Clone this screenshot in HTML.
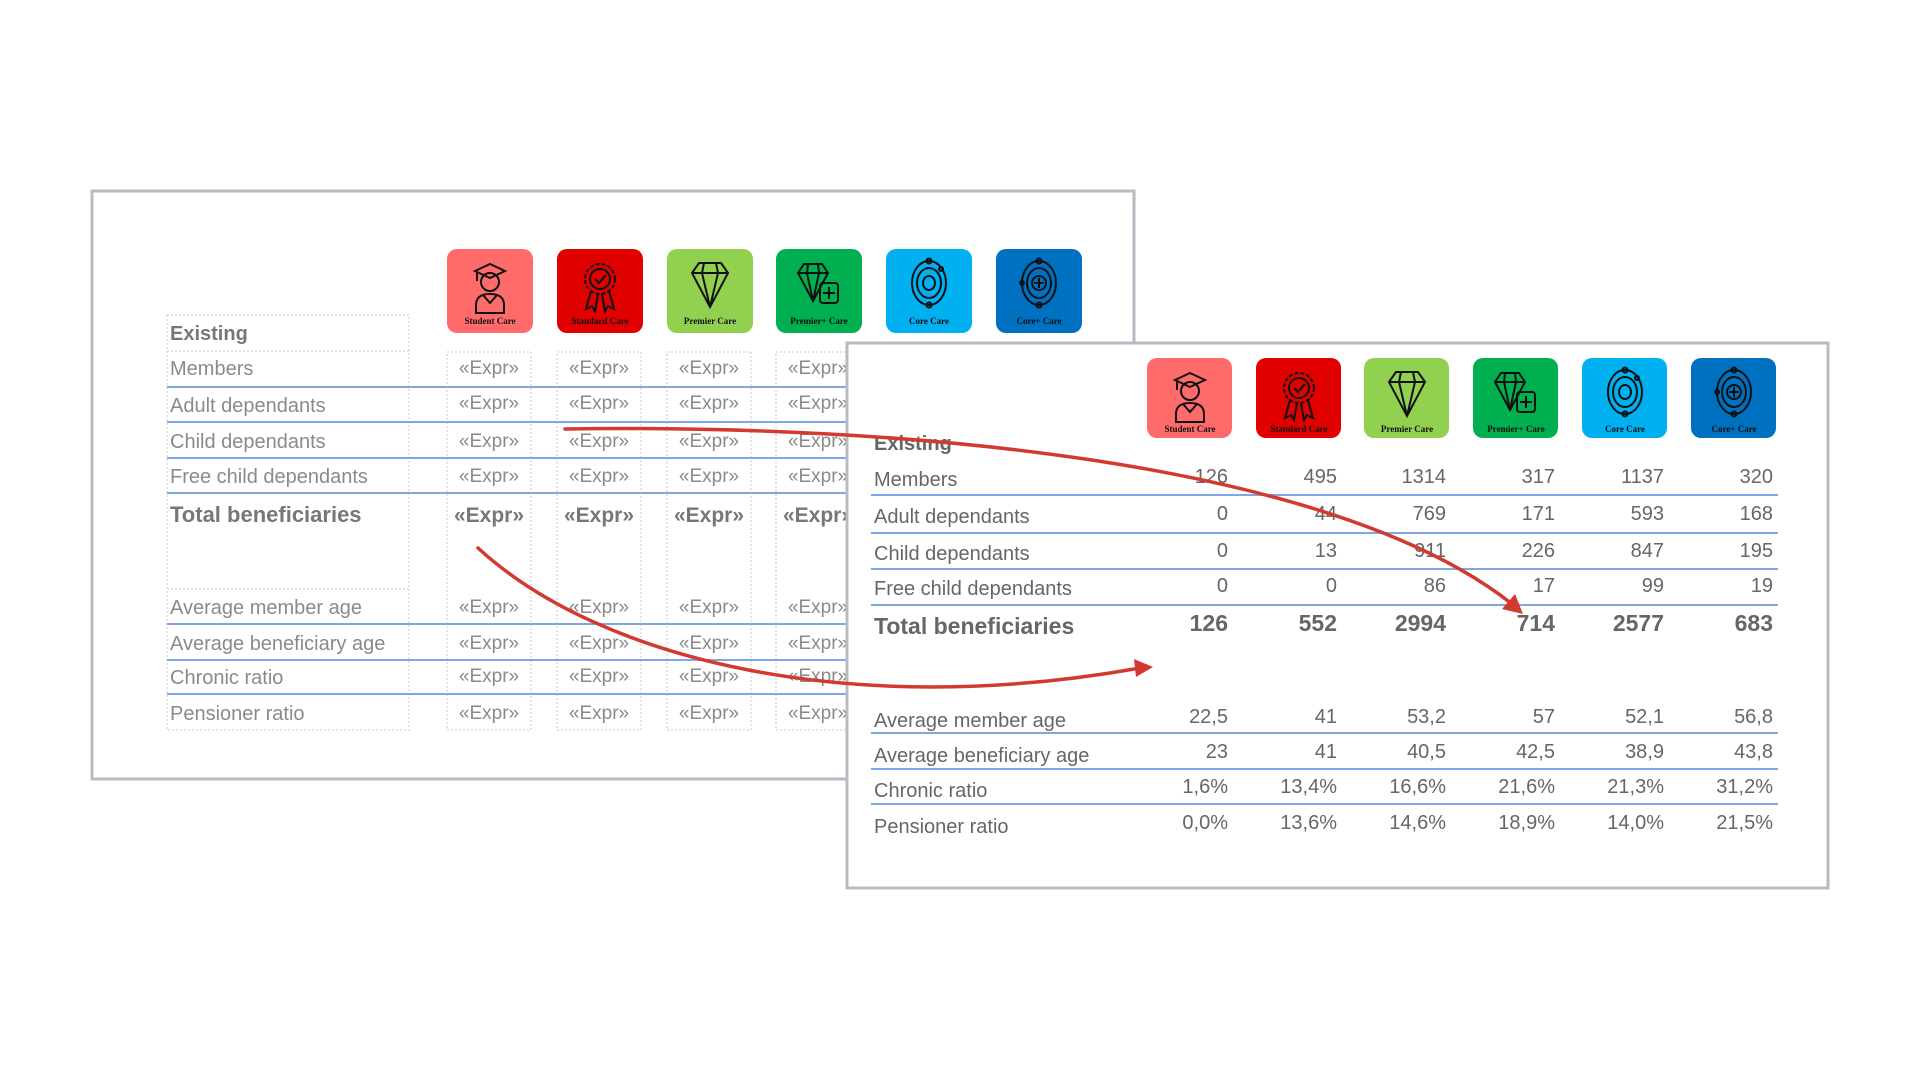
<!DOCTYPE html>
<html><head><meta charset="utf-8"><style>
html,body{margin:0;padding:0;background:#fff;}
svg{display:block}
text{font-family:"Liberation Sans Narrow","Liberation Sans",sans-serif;}
.l{fill:#8a8a8a;font-size:20px}
.r{fill:#666;font-size:20px}
.e{fill:#8a8a8a;font-size:19px}
.ic{font-family:"Liberation Serif",serif;font-weight:bold;font-size:9px;fill:#111}
</style></head><body>
<svg width="1920" height="1080" viewBox="0 0 1920 1080" xmlns="http://www.w3.org/2000/svg">
<defs>
<g id="g0" fill="none" stroke="#111" stroke-width="2">
<path d="M28 22 L43 15 L58 22 L43 29 Z"/><circle cx="43" cy="33" r="9"/><path d="M29 64 V56 Q29 45 43 45 Q57 45 57 56 V64 Z M36 46 L43 54 L50 46"/><path d="M30 23 V32"/></g>
<g id="g1" fill="none" stroke="#111" stroke-width="2">
<circle cx="43" cy="30" r="15" stroke-dasharray="4 2"/><circle cx="43" cy="30" r="10"/><path d="M38 30 l4 4 l7 -8"/><path d="M34 42 L29 60 L35 57 L38 62 L41 45 M52 42 L57 60 L51 57 L48 62 L45 45"/></g>
<g id="g2" fill="none" stroke="#111" stroke-width="2">
<path d="M25 24 L32 14 H54 L61 24 L43 58 Z M25 24 H61 M37 14 L35 24 L43 58 L51 24 L49 14"/></g>
<g id="g3" fill="none" stroke="#111" stroke-width="2">
<path d="M22 24 L28 15 H46 L52 24 L37 52 Z M22 24 H52 M32 15 L31 24 L37 52 L43 24 L42 15"/><rect x="44" y="34" width="18" height="20" rx="3"/><path d="M53 38 V50 M47 44 H59"/></g>
<g id="g4" fill="none" stroke="#111" stroke-width="2">
<ellipse cx="43" cy="34" rx="17" ry="22"/><ellipse cx="43" cy="34" rx="12" ry="15"/><ellipse cx="43" cy="34" rx="6" ry="7"/><circle cx="43" cy="12" r="2.5"/><circle cx="43" cy="56" r="2.5"/><circle cx="55" cy="20" r="2"/></g>
<g id="g5" fill="none" stroke="#111" stroke-width="2">
<ellipse cx="43" cy="34" rx="17" ry="22"/><ellipse cx="43" cy="34" rx="12" ry="15"/><circle cx="43" cy="34" r="7"/><path d="M43 29 V39 M38 34 H48"/><circle cx="43" cy="12" r="2.5"/><circle cx="43" cy="56" r="2.5"/><circle cx="26" cy="34" r="2"/></g>
</defs>

<!-- LEFT PANEL -->
<rect x="92" y="191" width="1042" height="588" fill="#fff" stroke="#b8bac4" stroke-width="3"/>
<g>
<g transform="translate(447,249)"><rect width="86" height="84" rx="10" fill="#ff6b6b"/><use href="#g0"/><text class="ic" x="43" y="75" text-anchor="middle">Student Care</text></g>
<g transform="translate(557,249)"><rect width="86" height="84" rx="10" fill="#e00000"/><use href="#g1"/><text class="ic" x="43" y="75" text-anchor="middle">Standard Care</text></g>
<g transform="translate(667,249)"><rect width="86" height="84" rx="10" fill="#92d050"/><use href="#g2"/><text class="ic" x="43" y="75" text-anchor="middle">Premier Care</text></g>
<g transform="translate(776,249)"><rect width="86" height="84" rx="10" fill="#00b050"/><use href="#g3"/><text class="ic" x="43" y="75" text-anchor="middle">Premier+ Care</text></g>
<g transform="translate(886,249)"><rect width="86" height="84" rx="10" fill="#00b0f0"/><use href="#g4"/><text class="ic" x="43" y="75" text-anchor="middle">Core Care</text></g>
<g transform="translate(996,249)"><rect width="86" height="84" rx="10" fill="#0070c0"/><use href="#g5"/><text class="ic" x="43" y="75" text-anchor="middle">Core+ Care</text></g>
</g>
<g fill="none" stroke="#c8c8c8" stroke-width="1" stroke-dasharray="2 2">
<rect x="167" y="315" width="242" height="415"/><line x1="167" y1="351" x2="409" y2="351"/>
<rect x="447" y="352" width="84" height="378"/><rect x="557" y="352" width="84" height="378"/><rect x="667" y="352" width="84" height="378"/><rect x="776" y="352" width="84" height="378"/>
<line x1="167" y1="589" x2="409" y2="589"/>
</g>
<g stroke="#7fa6e6" stroke-width="2">
<line x1="167" y1="387" x2="1134" y2="387"/><line x1="167" y1="422" x2="1134" y2="422"/><line x1="167" y1="458" x2="1134" y2="458"/><line x1="167" y1="493" x2="1134" y2="493"/>
<line x1="167" y1="624" x2="1134" y2="624"/><line x1="167" y1="660" x2="1134" y2="660"/><line x1="167" y1="694" x2="1134" y2="694"/>
</g>
<text class="l" x="170" y="340" style="font-weight:bold;fill:#777">Existing</text>
<text class="l" x="170" y="375">Members</text>
<text class="l" x="170" y="412">Adult dependants</text>
<text class="l" x="170" y="448">Child dependants</text>
<text class="l" x="170" y="483">Free child dependants</text>
<text class="l" x="170" y="522" style="font-weight:bold;font-size:22px;fill:#777">Total beneficiaries</text>
<text class="l" x="170" y="614">Average member age</text>
<text class="l" x="170" y="650">Average beneficiary age</text>
<text class="l" x="170" y="684">Chronic ratio</text>
<text class="l" x="170" y="720">Pension­er ratio</text>
<g class="e" text-anchor="middle">
<g transform="translate(489,0)"><text y="374">«Expr»</text><text y="409">«Expr»</text><text y="447">«Expr»</text><text y="482">«Expr»</text><text y="522" style="font-weight:bold;font-size:21px;fill:#777">«Expr»</text><text y="613">«Expr»</text><text y="649">«Expr»</text><text y="682">«Expr»</text><text y="719">«Expr»</text></g>
<g transform="translate(599,0)"><text y="374">«Expr»</text><text y="409">«Expr»</text><text y="447">«Expr»</text><text y="482">«Expr»</text><text y="522" style="font-weight:bold;font-size:21px;fill:#777">«Expr»</text><text y="613">«Expr»</text><text y="649">«Expr»</text><text y="682">«Expr»</text><text y="719">«Expr»</text></g>
<g transform="translate(709,0)"><text y="374">«Expr»</text><text y="409">«Expr»</text><text y="447">«Expr»</text><text y="482">«Expr»</text><text y="522" style="font-weight:bold;font-size:21px;fill:#777">«Expr»</text><text y="613">«Expr»</text><text y="649">«Expr»</text><text y="682">«Expr»</text><text y="719">«Expr»</text></g>
<g transform="translate(818,0)"><text y="374">«Expr»</text><text y="409">«Expr»</text><text y="447">«Expr»</text><text y="482">«Expr»</text><text y="522" style="font-weight:bold;font-size:21px;fill:#777">«Expr»</text><text y="613">«Expr»</text><text y="649">«Expr»</text><text y="682">«Expr»</text><text y="719">«Expr»</text></g>
</g>

<!-- RIGHT PANEL -->
<rect x="847" y="343" width="981" height="545" fill="#fff" stroke="#b8bac4" stroke-width="3"/>
<g>
<g transform="translate(1147,358)"><rect width="85" height="80" rx="10" fill="#ff6b6b"/><use href="#g0"/><text class="ic" x="43" y="74" text-anchor="middle">Student Care</text></g>
<g transform="translate(1256,358)"><rect width="85" height="80" rx="10" fill="#e00000"/><use href="#g1"/><text class="ic" x="43" y="74" text-anchor="middle">Standard Care</text></g>
<g transform="translate(1364,358)"><rect width="85" height="80" rx="10" fill="#92d050"/><use href="#g2"/><text class="ic" x="43" y="74" text-anchor="middle">Premier Care</text></g>
<g transform="translate(1473,358)"><rect width="85" height="80" rx="10" fill="#00b050"/><use href="#g3"/><text class="ic" x="43" y="74" text-anchor="middle">Premier+ Care</text></g>
<g transform="translate(1582,358)"><rect width="85" height="80" rx="10" fill="#00b0f0"/><use href="#g4"/><text class="ic" x="43" y="74" text-anchor="middle">Core Care</text></g>
<g transform="translate(1691,358)"><rect width="85" height="80" rx="10" fill="#0070c0"/><use href="#g5"/><text class="ic" x="43" y="74" text-anchor="middle">Core+ Care</text></g>
</g>
<g stroke="#7fa6e6" stroke-width="2">
<line x1="871" y1="495" x2="1778" y2="495"/><line x1="871" y1="533" x2="1778" y2="533"/><line x1="871" y1="569" x2="1778" y2="569"/><line x1="871" y1="605" x2="1778" y2="605"/>
<line x1="871" y1="733" x2="1778" y2="733"/><line x1="871" y1="769" x2="1778" y2="769"/><line x1="871" y1="804" x2="1778" y2="804"/>
</g>
<text class="r" x="874" y="450" style="font-weight:bold">Existing</text>
<text class="r" x="874" y="486">Members</text>
<text class="r" x="874" y="523">Adult dependants</text>
<text class="r" x="874" y="560">Child dependants</text>
<text class="r" x="874" y="595">Free child dependants</text>
<text class="r" x="874" y="634" style="font-weight:bold;font-size:23px">Total beneficiaries</text>
<text class="r" x="874" y="727">Average member age</text>
<text class="r" x="874" y="762">Average beneficiary age</text>
<text class="r" x="874" y="797">Chronic ratio</text>
<text class="r" x="874" y="833">Pensioner ratio</text>
<g class="r" text-anchor="end">
<g transform="translate(1228,0)"><text y="483">126</text><text y="520">0</text><text y="557">0</text><text y="592">0</text><text y="631" style="font-weight:bold;font-size:23px">126</text><text y="723">22,5</text><text y="758">23</text><text y="793">1,6%</text><text y="829">0,0%</text></g>
<g transform="translate(1337,0)"><text y="483">495</text><text y="520">44</text><text y="557">13</text><text y="592">0</text><text y="631" style="font-weight:bold;font-size:23px">552</text><text y="723">41</text><text y="758">41</text><text y="793">13,4%</text><text y="829">13,6%</text></g>
<g transform="translate(1446,0)"><text y="483">1314</text><text y="520">769</text><text y="557">911</text><text y="592">86</text><text y="631" style="font-weight:bold;font-size:23px">2994</text><text y="723">53,2</text><text y="758">40,5</text><text y="793">16,6%</text><text y="829">14,6%</text></g>
<g transform="translate(1555,0)"><text y="483">317</text><text y="520">171</text><text y="557">226</text><text y="592">17</text><text y="631" style="font-weight:bold;font-size:23px">714</text><text y="723">57</text><text y="758">42,5</text><text y="793">21,6%</text><text y="829">18,9%</text></g>
<g transform="translate(1664,0)"><text y="483">1137</text><text y="520">593</text><text y="557">847</text><text y="592">99</text><text y="631" style="font-weight:bold;font-size:23px">2577</text><text y="723">52,1</text><text y="758">38,9</text><text y="793">21,3%</text><text y="829">14,0%</text></g>
<g transform="translate(1773,0)"><text y="483">320</text><text y="520">168</text><text y="557">195</text><text y="592">19</text><text y="631" style="font-weight:bold;font-size:23px">683</text><text y="723">56,8</text><text y="758">43,8</text><text y="793">31,2%</text><text y="829">21,5%</text></g>
</g>

<!-- ARROWS -->
<g fill="none" stroke="#d23a30" stroke-width="3.5" stroke-linecap="round">
<path d="M565 429 C 900 424 1330 460 1512 604"/>
<path d="M478 548 C 600 660 850 720 1140 668"/>
</g>
<g fill="#d23a30">
<polygon points="1523,614 1502,609 1515,594"/>
<polygon points="1153,667 1136,677 1134,659"/>
</g>
</svg>
</body></html>
